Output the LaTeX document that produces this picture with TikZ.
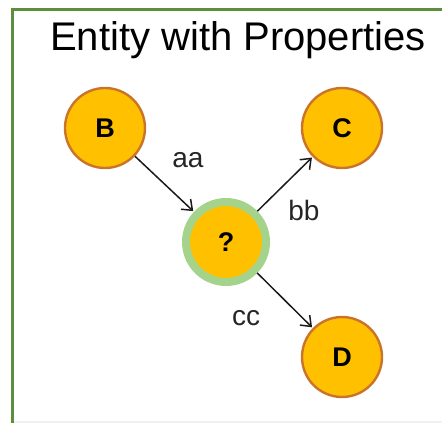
\documentclass[tikz,border=0pt]{standalone}
\usepackage{fontspec}
\setmainfont{Liberation Sans}
\usetikzlibrary{arrows.meta}
\definecolor{framegreen}{HTML}{5B8F3E}
\definecolor{ringgreen}{HTML}{A6D38C}
\definecolor{nodefill}{HTML}{FFC000}
\definecolor{nodeedge}{HTML}{C9742A}
\definecolor{arrowgray}{HTML}{1A1A1A}
\tikzset{
  entity/.style={circle, fill=nodefill, draw=nodeedge, line width=2.4pt,
    minimum size=80pt, inner sep=0pt,
    font=\fontsize{27}{27}\selectfont\bfseries},
  unknown/.style={circle, fill=nodefill, draw=ringgreen, line width=8pt,
    minimum size=80pt, inner sep=0pt,
    font=\fontsize{27}{27}\selectfont\bfseries},
  rel/.style={draw=arrowgray, line width=1.5pt,
    -{Straight Barb[length=9pt,width=14pt,line width=1.5pt]}, shorten >=1pt},
  rellabel/.style={font=\fontsize{28}{28}\selectfont, text=black!85},
}
\begin{document}
\begin{tikzpicture}[x=1pt,y=-1pt]
  \useasboundingbox (0,0) rectangle (442,423);
  % frame
  \draw[gray!12, line width=1.2pt] (14,422) -- (442,422);
  \draw[framegreen, line width=3pt] (12,423) -- (12,9) -- (442,9);
  % title
  \node[anchor=base, font=\fontsize{40}{40}\selectfont] (title) at (238,50) {Entity with Properties};
  % entities
  \node[entity] (B) at (105,128) {B};
  \node[entity] (C) at (342,128) {C};
  \node[unknown] (Q) at (226,242) {?};
  \node[entity] (D) at (342,357) {D};
  % relations
  \draw[rel] (B) -- (Q);
  \draw[rel] (Q) -- (C);
  \draw[rel] (Q) -- (D);
  \node[rellabel] (laa) at (188,160) {aa};
  \node[rellabel] (lbb) at (304,210) {bb};
  \node[rellabel] (lcc) at (246,318) {cc};
\end{tikzpicture}
\end{document}
